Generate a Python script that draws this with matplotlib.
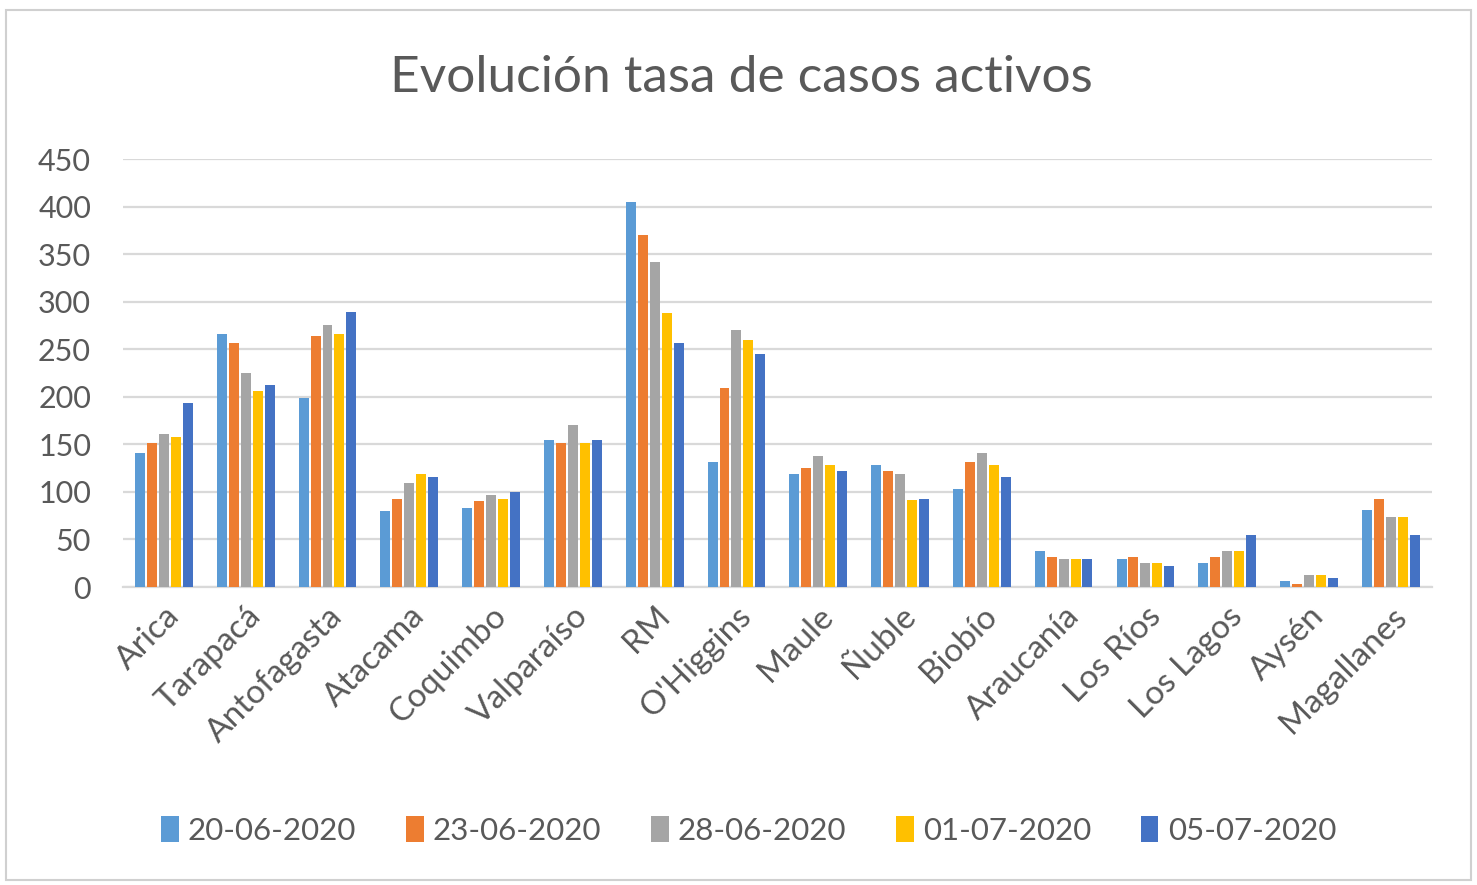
import numpy as np
import matplotlib.pyplot as plt
from matplotlib.patches import Rectangle

# data
regiones = ['Arica', 'Tarapacá', 'Antofagasta', 'Atacama', 'Coquimbo', 'Valparaíso',
            'RM', "O'Higgins", 'Maule', 'Ñuble', 'Biobío', 'Araucanía', 'Los Ríos',
            'Los Lagos', 'Aysén', 'Magallanes']
fechas = ['20-06-2020', '23-06-2020', '28-06-2020', '01-07-2020', '05-07-2020']
t_20_06 = [141, 266, 199, 80, 83, 155, 405, 131, 119, 128, 103, 38, 29, 25, 6, 81]
t_23_06 = [151, 257, 264, 93, 90, 151, 370, 209, 125, 122, 131, 32, 32, 32, 3, 93]
t_28_06 = [161, 225, 276, 109, 97, 170, 342, 270, 138, 119, 141, 29, 25, 38, 13, 74]
t_01_07 = [158, 206, 266, 119, 93, 151, 288, 260, 128, 92, 128, 29, 25, 38, 13, 74]
t_05_07 = [194, 212, 289, 116, 100, 155, 257, 245, 122, 93, 116, 29, 22, 55, 10, 55]
series = [t_20_06, t_23_06, t_28_06, t_01_07, t_05_07]
colores = ['#5B9BD5', '#ED7D31', '#A5A5A5', '#FFC000', '#4472C4']

plt.rcParams['font.family'] = ['Lato', 'DejaVu Sans']
txt = '#595959'

fig = plt.figure(figsize=(14.77, 8.85), dpi=100)
fig.patches.append(Rectangle((0.004, 0.006), 0.992, 0.983, transform=fig.transFigure,
                             fill=False, edgecolor='#d0d0d0', linewidth=1.5))
ax = fig.add_axes([0.0833, 0.3367, 0.886, 0.4836])

x = np.arange(len(regiones))
paso = 0.146
for i, (vals, c, f) in enumerate(zip(series, colores, fechas)):
    ax.bar(x + (i - 2) * paso, vals, width=0.122, color=c, label=f, zorder=3)

ax.set_xlim(-0.5, len(regiones) - 0.5)
ax.set_ylim(0, 450)
ax.set_yticks(range(0, 451, 50))
ax.yaxis.grid(True, color='#d9d9d9', linewidth=1.6, zorder=0)
ax.set_axisbelow(True)
for s in ['top', 'right', 'left']:
    ax.spines[s].set_visible(False)
ax.spines['bottom'].set_color('#d9d9d9')
ax.spines['bottom'].set_linewidth(1.6)
ax.tick_params(axis='y', length=0, labelsize=22, labelcolor=txt, pad=23)
ax.set_xticks(x)
ax.set_xticklabels(regiones, rotation=45, ha='right', rotation_mode='anchor')
ax.tick_params(axis='x', length=0, labelsize=24, labelcolor=txt, pad=10)

fig.text(0.502, 0.912, 'Evolución tasa de casos activos', ha='center', va='center',
         fontsize=37, color=txt)

handles, labels = ax.get_legend_handles_labels()
fig.legend(handles, labels, loc='center', bbox_to_anchor=(0.507, 0.062), ncol=5,
           frameon=False, fontsize=22.5, labelcolor=txt, handlelength=0.55,
           handleheight=0.9, handletextpad=0.3, columnspacing=1.6)

fig.savefig('out.png', dpi=100)
